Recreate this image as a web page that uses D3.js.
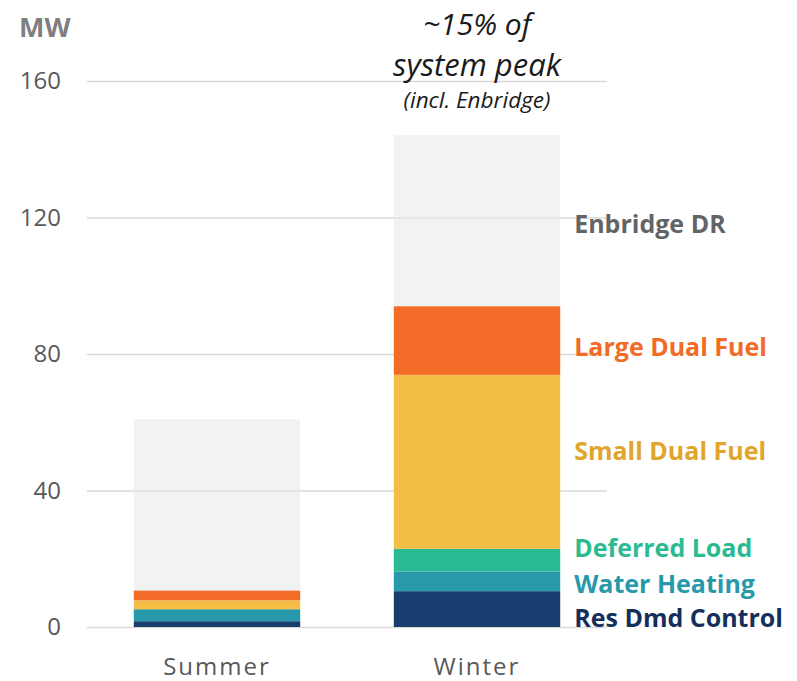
<!DOCTYPE html>
<html>
<head>
<meta charset="utf-8">
<script src="https://cdn.jsdelivr.net/npm/d3@7"></script>
<style>
  html, body { margin: 0; padding: 0; background: #fff; }
  svg { display: block; font-family: "Open Sans", sans-serif; }
</style>
</head>
<body>
<svg id="chart" width="797" height="681"></svg>
<script>
// ---- Data ----
const seasons = ["Summer", "Winter"];
const programs = ["Res Dmd Control", "Water Heating", "Deferred Load", "Small Dual Fuel", "Large Dual Fuel", "Enbridge DR"];
const resDmdControl = [1.7, 10.5];
const waterHeating  = [3.5, 5.8];
const deferredLoad  = [0.0, 6.6];
const smallDualFuel = [2.6, 51.0];
const largeDualFuel = [2.9, 20.1];
const enbridgeDR    = [50.2, 50.1];
const yTicks = [0, 40, 80, 120, 160];
const unitLabel = "MW";
const noteLines = ["~15% of", "system peak", "(incl. Enbridge)"];

const seriesValues = [resDmdControl, waterHeating, deferredLoad, smallDualFuel, largeDualFuel, enbridgeDR];
const fills = ["#173C6E", "#2899AA", "#2BBB93", "#F4BE46", "#F26B27", "url(#dots)"];
const labelColors = ["#14305A", "#2899AA", "#2BBB93", "#E2A52B", "#F26B27", "#636466"];

const rows = seasons.map((s, i) => {
  const r = { season: s };
  programs.forEach((p, j) => r[p] = seriesValues[j][i]);
  return r;
});

const svg = d3.select("#chart");

// pattern for Enbridge segment
const defs = svg.append("defs");
const pat = defs.append("pattern").attr("id", "dots")
  .attr("width", 4).attr("height", 4).attr("patternUnits", "userSpaceOnUse");
pat.append("rect").attr("width", 4).attr("height", 4).attr("fill", "#E4E6E6").attr("fill-opacity", 0.55);
pat.append("circle").attr("cx", 1).attr("cy", 1).attr("r", 0.6).attr("fill", "#fff").attr("fill-opacity", 0.5);
pat.append("circle").attr("cx", 3).attr("cy", 3).attr("r", 0.5).attr("fill", "#fff").attr("fill-opacity", 0.4);

const x = d3.scaleBand().domain(seasons).range([87, 607]).paddingInner(0.36).paddingOuter(0.18);
const y = d3.scaleLinear().domain([0, 160]).range([627, 81]);

// gridlines
const yAxis = d3.axisLeft(y).tickValues(yTicks).tickSize(-(607 - 87)).tickPadding(26);
const gy = svg.append("g").attr("transform", "translate(87,0)").call(yAxis);
gy.select(".domain").remove();
gy.selectAll(".tick line").attr("stroke", "#D9D9D9").attr("stroke-width", 1.6);
gy.selectAll(".tick text").attr("fill", "#595959").attr("font-size", 24)
  .attr("font-family", "'Open Sans', sans-serif");

// stacked bars
const stack = d3.stack().keys(programs);
const layers = stack(rows);
svg.append("g").selectAll("g").data(layers).join("g")
  .attr("fill", (d, i) => fills[i])
  .selectAll("rect").data(d => d).join("rect")
  .attr("x", d => x(d.data.season))
  .attr("width", x.bandwidth())
  .attr("y", d => y(d[1]))
  .attr("height", d => Math.max(0, y(d[0]) - y(d[1])));

// category axis labels
const xAxis = d3.axisBottom(x).tickSize(0).tickPadding(0);
const gx = svg.append("g").attr("transform", "translate(0,658)").call(xAxis);
gx.select(".domain").remove();
gx.selectAll(".tick text").attr("fill", "#595959").attr("font-size", 24)
  .attr("letter-spacing", 2).attr("dy", "0.72em")
  .attr("font-family", "'Open Sans', sans-serif");

// unit label
svg.append("text").attr("x", 19).attr("y", 37).text(unitLabel)
  .attr("font-weight", 700).attr("font-size", 27).attr("fill", "#7F7F7F");

// series labels to the right of winter bar
const labelY = [627, 593, 557, 460, 356, 233];
const labelX = x("Winter") + x.bandwidth() + 14;
svg.append("g").selectAll("text").data(programs).join("text")
  .attr("x", labelX)
  .attr("y", (d, i) => labelY[i])
  .attr("fill", (d, i) => labelColors[i])
  .attr("font-weight", 700)
  .attr("font-size", 25)
  .text(d => d);

// annotation
const cx = x("Winter") + x.bandwidth() / 2;
const noteY = [35, 76, 108];
const noteSize = [30, 31, 22.5];
svg.append("g").selectAll("text").data(noteLines).join("text")
  .attr("x", cx).attr("y", (d, i) => noteY[i])
  .attr("text-anchor", "middle")
  .attr("font-style", "italic")
  .attr("font-size", (d, i) => noteSize[i])
  .attr("fill", "#1A1A1A")
  .text(d => d);
</script>
</body>
</html>
